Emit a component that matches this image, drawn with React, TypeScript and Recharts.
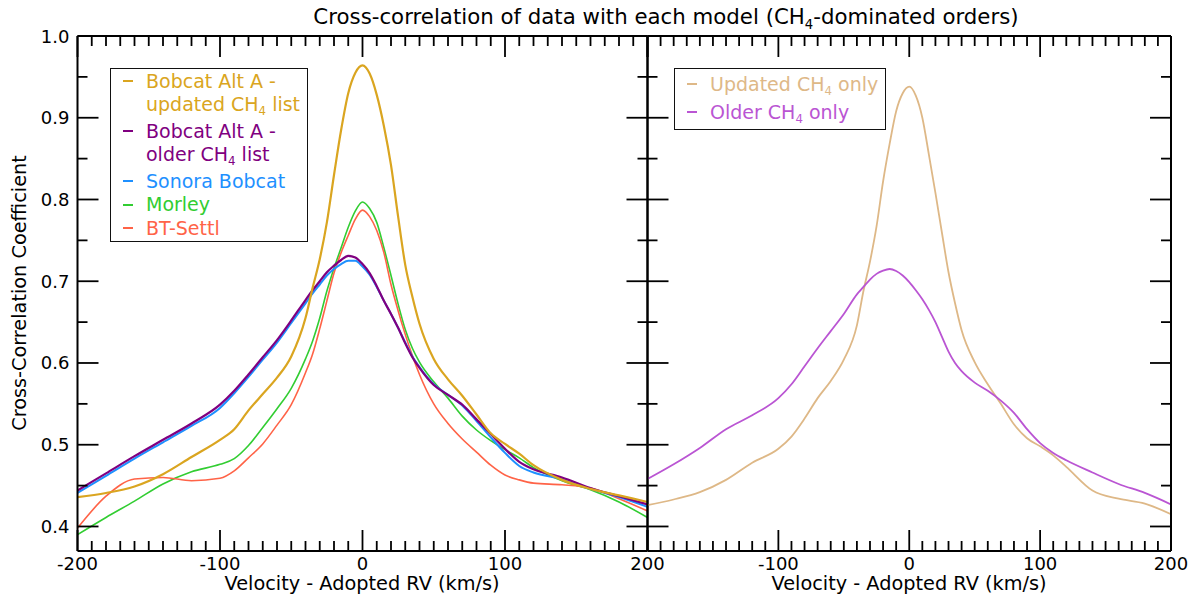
import React from 'react';
import { LineChart, Line, XAxis, YAxis, Legend } from 'recharts';

// ---------- data ----------
const velocity = [
  -200, -180, -160, -140, -120, -100, -90, -80, -70, -60, -50, -40, -35, -30, -25, -20, -15, -10, -5, 0,
  5, 10, 15, 20, 25, 30, 35, 40, 50, 60, 70, 80, 90, 100, 110, 120, 140, 160, 180, 200,
];

// left panel
const altAUpdated = [
  0.436, 0.441, 0.449, 0.464, 0.485, 0.506, 0.519, 0.542, 0.562, 0.582, 0.608, 0.655, 0.692, 0.727, 0.772, 0.830, 0.885, 0.930, 0.955, 0.964,
  0.954, 0.928, 0.890, 0.842, 0.779, 0.720, 0.681, 0.648, 0.605, 0.580, 0.560, 0.537, 0.514, 0.501, 0.489, 0.475, 0.457, 0.446, 0.438, 0.430,
];
const altAOlder = [
  0.444, 0.465, 0.486, 0.506, 0.526, 0.549, 0.566, 0.586, 0.607, 0.628, 0.652, 0.677, 0.689, 0.700, 0.711, 0.719, 0.726, 0.731, 0.729, 0.721,
  0.710, 0.694, 0.676, 0.660, 0.643, 0.624, 0.607, 0.594, 0.573, 0.561, 0.549, 0.531, 0.513, 0.495, 0.479, 0.470, 0.460, 0.447, 0.437, 0.427,
];
const sonoraBobcat = [
  0.441, 0.462, 0.483, 0.503, 0.523, 0.545, 0.563, 0.583, 0.604, 0.625, 0.649, 0.673, 0.685, 0.696, 0.707, 0.715, 0.721, 0.725, 0.725, 0.718,
  0.708, 0.693, 0.676, 0.660, 0.643, 0.625, 0.608, 0.595, 0.574, 0.561, 0.548, 0.529, 0.509, 0.490, 0.474, 0.466, 0.458, 0.446, 0.436, 0.424,
];
const morley = [
  0.390, 0.411, 0.431, 0.452, 0.467, 0.476, 0.483, 0.499, 0.521, 0.544, 0.569, 0.605, 0.627, 0.655, 0.688, 0.716, 0.741, 0.766, 0.786, 0.797,
  0.789, 0.772, 0.741, 0.707, 0.672, 0.641, 0.618, 0.601, 0.577, 0.557, 0.535, 0.518, 0.505, 0.494, 0.484, 0.472, 0.456, 0.445, 0.430, 0.411,
];
const btSettl = [
  0.398, 0.437, 0.458, 0.460, 0.456, 0.459, 0.468, 0.484, 0.501, 0.524, 0.549, 0.588, 0.611, 0.642, 0.676, 0.710, 0.735, 0.756, 0.776, 0.787,
  0.779, 0.762, 0.735, 0.696, 0.664, 0.635, 0.609, 0.586, 0.550, 0.526, 0.507, 0.491, 0.475, 0.463, 0.457, 0.453, 0.451, 0.447, 0.434, 0.419,
];

// right panel
const updatedOnly = [
  0.426, 0.433, 0.442, 0.457, 0.478, 0.495, 0.510, 0.532, 0.557, 0.578, 0.604, 0.646, 0.688, 0.724, 0.767, 0.822, 0.868, 0.908, 0.930, 0.938,
  0.927, 0.900, 0.855, 0.808, 0.759, 0.711, 0.673, 0.640, 0.601, 0.574, 0.550, 0.525, 0.508, 0.498, 0.487, 0.473, 0.444, 0.434, 0.428, 0.415,
];
const olderOnly = [
  0.458, 0.476, 0.496, 0.519, 0.536, 0.557, 0.574, 0.596, 0.618, 0.639, 0.660, 0.684, 0.693, 0.702, 0.709, 0.713, 0.715, 0.7125, 0.707, 0.699,
  0.689, 0.678, 0.665, 0.650, 0.632, 0.614, 0.600, 0.590, 0.576, 0.566, 0.554, 0.539, 0.519, 0.502, 0.490, 0.481, 0.466, 0.452, 0.441, 0.427,
];

const xTicks = Array.from({ length: 41 }, (_, i) => -200 + i * 10);
const yTicks = Array.from({ length: 13 }, (_, i) => Math.round((0.4 + i * 0.05) * 100) / 100);
const xDomain: [number, number] = [-200, 200];
const yDomain: [number, number] = [0.37, 1.0];

const leftSeries = [
  { key: 'altAUpdated', values: altAUpdated, color: '#DAA520', width: 2.2, label: ['Bobcat Alt A -', 'updated CH|4| list'] },
  { key: 'altAOlder', values: altAOlder, color: '#800080', width: 2.2, label: ['Bobcat Alt A -', 'older CH|4| list'] },
  { key: 'sonoraBobcat', values: sonoraBobcat, color: '#1E90FF', width: 2, label: ['Sonora Bobcat'] },
  { key: 'morley', values: morley, color: '#32CD32', width: 1.6, label: ['Morley'] },
  { key: 'btSettl', values: btSettl, color: '#FF6347', width: 1.6, label: ['BT-Settl'] },
];
const rightSeries = [
  { key: 'updatedOnly', values: updatedOnly, color: '#DEB887', width: 1.8, label: ['Updated CH|4| only'] },
  { key: 'olderOnly', values: olderOnly, color: '#BA55D3', width: 1.8, label: ['Older CH|4| only'] },
];

const leftData = velocity.map((v, i) => {
  const row: Record<string, number> = { v };
  leftSeries.forEach((s) => (row[s.key] = s.values[i]));
  return row;
});
const rightData = velocity.map((v, i) => {
  const row: Record<string, number> = { v };
  rightSeries.forEach((s) => (row[s.key] = s.values[i]));
  return row;
});

const FONT = '"DejaVu Sans", Verdana, sans-serif';
const MAJOR = 21;
const MINOR = 10;
const TICK_W = 1.8;

// text with "|4|" as subscript
const Sub = ({ text }: { text: string }) => {
  const parts = text.split('|');
  return (
    <>
      {parts.map((p, i) =>
        i % 2 === 1 ? (
          <span key={i} style={{ fontSize: '0.62em', position: 'relative', top: '0.38em' }}>{p}</span>
        ) : (
          <span key={i}>{p}</span>
        )
      )}
    </>
  );
};

const isMajorX = (v: number) => Math.abs(v % 100) < 1e-6;
const isMajorY = (v: number) => Math.abs(v * 10 - Math.round(v * 10)) < 1e-6;

// custom axis ticks: inward tick marks (major / minor) plus labels
const renderBottomTick = (hideFirst: boolean) => (props: any) => {
  const x = Number(props.x);
  const y = Number(props.y);
  const v = props.payload.value;
  const major = isMajorX(v);
  const len = major ? MAJOR : MINOR;
  return (
    <g>
      <path d={`M${x},${y}L${x},${y - len}`} stroke="#000" strokeWidth={TICK_W} fill="none" />
      {major && !(hideFirst && v === -200) && (
        <text x={x} y={y + 18.5} textAnchor="middle" fontSize={18} fontFamily={FONT} fill="#000">
          {v}
        </text>
      )}
    </g>
  );
};
const renderTopTick = (props: any) => {
  const x = Number(props.x);
  const y = Number(props.y);
  const len = isMajorX(props.payload.value) ? MAJOR : MINOR;
  return <path d={`M${x},${y}L${x},${y + len}`} stroke="#000" strokeWidth={TICK_W} fill="none" />;
};
const renderLeftTick = (showLabel: boolean) => (props: any) => {
  const x = Number(props.x);
  const y = Number(props.y);
  const v = props.payload.value;
  const major = isMajorY(v);
  const len = major ? MAJOR : MINOR;
  return (
    <g>
      <path d={`M${x},${y}L${x + len},${y}`} stroke="#000" strokeWidth={TICK_W} fill="none" />
      {showLabel && major && (
        <text x={x - 8} y={y + 6.5} textAnchor="end" fontSize={18} fontFamily={FONT} fill="#000">
          {v.toFixed(1)}
        </text>
      )}
    </g>
  );
};
const renderRightTick = (props: any) => {
  const x = Number(props.x);
  const y = Number(props.y);
  const len = isMajorY(props.payload.value) ? MAJOR : MINOR;
  return <path d={`M${x},${y}L${x - len},${y}`} stroke="#000" strokeWidth={TICK_W} fill="none" />;
};

const LegendBox = ({ series, rowH, padTop }: { series: any[]; rowH: number; padTop: number }) => (
  <div
    style={{
      border: '1.5px solid #111',
      background: '#fff',
      padding: `${padTop}px 10px 1px 0`,
      fontFamily: FONT,
      fontSize: 19,
      lineHeight: `${rowH}px`,
      whiteSpace: 'nowrap',
      boxSizing: 'border-box',
    }}
  >
    {series.map((s) =>
      s.label.map((line: string, j: number) => (
        <div key={s.key + j} style={{ position: 'relative', paddingLeft: 35, color: s.color }}>
          {j === 0 && (
            <span
              style={{
                position: 'absolute',
                left: 12,
                top: rowH / 2 - 1,
                width: 10,
                height: 2,
                background: s.color,
              }}
            />
          )}
          <Sub text={line} />
        </div>
      ))
    )}
  </div>
);

const axisLine = { stroke: '#000', strokeWidth: 2 };

const leftBottomTick = renderBottomTick(false);
const rightBottomTick = renderBottomTick(true);
const leftLeftTick = renderLeftTick(true);
const rightLeftTick = renderLeftTick(false);

export default function App() {
  return (
    <div style={{ position: 'absolute', left: 0, top: 0, width: 1195, height: 594, background: '#fff', fontFamily: FONT }}>
      {/* left panel */}
      <div style={{ position: 'absolute', left: 0, top: 0 }}>
        <LineChart width={690} height={594} data={leftData} margin={{ top: 35, right: 41.5, bottom: 42, left: 76.5 }}>
          <XAxis xAxisId="b" dataKey="v" type="number" domain={xDomain} ticks={xTicks} interval={0} allowDataOverflow
            height={1} tickSize={0} tickMargin={0} axisLine={axisLine} tickLine={false} tick={leftBottomTick} />
          <XAxis xAxisId="t" orientation="top" dataKey="v" type="number" domain={xDomain} ticks={xTicks} interval={0} allowDataOverflow
            height={1} tickSize={0} tickMargin={0} axisLine={axisLine} tickLine={false} tick={renderTopTick} />
          <YAxis yAxisId="l" type="number" domain={yDomain} ticks={yTicks} interval={0} allowDataOverflow
            width={1} tickSize={0} tickMargin={0} axisLine={axisLine} tickLine={false} tick={leftLeftTick} />
          <YAxis yAxisId="r" orientation="right" type="number" domain={yDomain} ticks={yTicks} interval={0} allowDataOverflow
            width={1} tickSize={0} tickMargin={0} axisLine={axisLine} tickLine={false} tick={renderRightTick} />
          {[leftSeries[3], leftSeries[4], leftSeries[2], leftSeries[1], leftSeries[0]].map((s) => (
            <Line key={s.key} xAxisId="b" yAxisId="l" type="monotone" dataKey={s.key} stroke={s.color}
              strokeWidth={s.width} dot={false} activeDot={false} isAnimationActive={false} />
          ))}
          <Legend verticalAlign="middle" layout="horizontal"
            wrapperStyle={{ left: 110, top: 67.5, width: 198, height: 172 }}
            content={() => <LegendBox series={leftSeries} rowH={23.5} padTop={1} />} />
        </LineChart>
      </div>

      {/* right panel */}
      <div style={{ position: 'absolute', left: 600, top: 0 }}>
        <LineChart width={595} height={594} data={rightData} margin={{ top: 35, right: 23, bottom: 42, left: 46.5 }}>
          <XAxis xAxisId="b" dataKey="v" type="number" domain={xDomain} ticks={xTicks} interval={0} allowDataOverflow
            height={1} tickSize={0} tickMargin={0} axisLine={axisLine} tickLine={false} tick={rightBottomTick} />
          <XAxis xAxisId="t" orientation="top" dataKey="v" type="number" domain={xDomain} ticks={xTicks} interval={0} allowDataOverflow
            height={1} tickSize={0} tickMargin={0} axisLine={axisLine} tickLine={false} tick={renderTopTick} />
          <YAxis yAxisId="l" type="number" domain={yDomain} ticks={yTicks} interval={0} allowDataOverflow
            width={1} tickSize={0} tickMargin={0} axisLine={axisLine} tickLine={false} tick={rightLeftTick} />
          <YAxis yAxisId="r" orientation="right" type="number" domain={yDomain} ticks={yTicks} interval={0} allowDataOverflow
            width={1} tickSize={0} tickMargin={0} axisLine={axisLine} tickLine={false} tick={renderRightTick} />
          {rightSeries.map((s) => (
            <Line key={s.key} xAxisId="b" yAxisId="l" type="monotone" dataKey={s.key} stroke={s.color}
              strokeWidth={s.width} dot={false} activeDot={false} isAnimationActive={false} />
          ))}
          <Legend verticalAlign="middle" layout="horizontal"
            wrapperStyle={{ left: 74, top: 67.5, width: 212, height: 60 }}
            content={() => <LegendBox series={rightSeries} rowH={25} padTop={3} />} />
        </LineChart>
      </div>

      {/* titles */}
      <div style={{ position: 'absolute', left: 266, top: 4, width: 800, textAlign: 'center', fontSize: 21.3, lineHeight: '26px', color: '#000' }}>
        <Sub text="Cross-correlation of data with each model (CH|4|-dominated orders)" />
      </div>
      <div style={{ position: 'absolute', left: 20 - 200, top: 293 - 12, width: 400, height: 24, lineHeight: '24px', textAlign: 'center',
        fontSize: 19.3, transform: 'rotate(-90deg)', transformOrigin: 'center', color: '#000' }}>
        Cross-Correlation Coefficient
      </div>
      <div style={{ position: 'absolute', left: 362 - 150, top: 575, width: 300, lineHeight: '17px', textAlign: 'center', fontSize: 19.3, color: '#000' }}>
        Velocity - Adopted RV (km/s)
      </div>
      <div style={{ position: 'absolute', left: 909 - 150, top: 575, width: 300, lineHeight: '17px', textAlign: 'center', fontSize: 19.3, color: '#000' }}>
        Velocity - Adopted RV (km/s)
      </div>
    </div>
  );
}
